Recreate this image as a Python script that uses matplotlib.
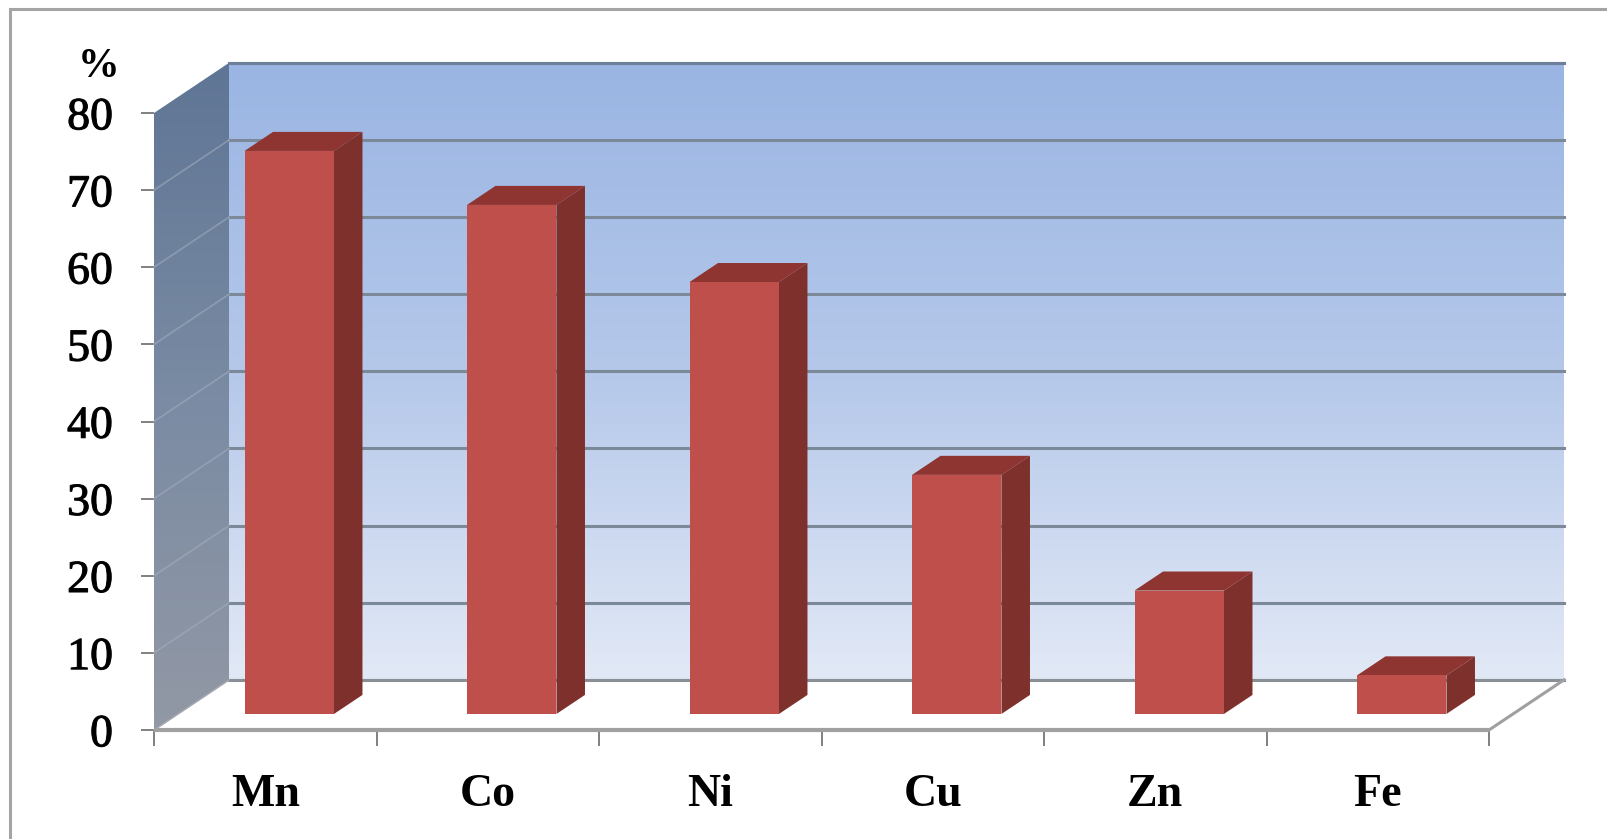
import numpy as np
import matplotlib
matplotlib.use("Agg")
import matplotlib.pyplot as plt
import matplotlib.patheffects as pe
from matplotlib.patches import Polygon, Rectangle
from matplotlib.colors import LinearSegmentedColormap

plt.rcParams['font.family'] = ['Liberation Serif', 'DejaVu Serif']

metals = ["Mn", "Co", "Ni", "Cu", "Zn", "Fe"]
percent = [73, 66, 56, 31, 16, 5]
y_ticks = [0, 10, 20, 30, 40, 50, 60, 70, 80]

W, H = 1607, 839
# depth of the 3d box, in data units
DX = 75 / 222.5
DY = 6.5
BAR_W = 0.402
D0, D1 = 0.32, 0.70


def proj(x, v, d):
    return x + d * DX, v + d * DY


fig = plt.figure(figsize=(W / 100, H / 100), dpi=100, facecolor="white")
ax = fig.add_axes([154 / W, 109 / H, 1335 / W, 617 / H])
ax.set_xlim(0, 6)
ax.set_ylim(0, 80)
for s in ax.spines.values():
    s.set_visible(False)
ax.patch.set_visible(False)

fig.add_artist(Rectangle((10 / W, -0.02), 1650 / W, (830 + 17) / H, transform=fig.transFigure,
                         fill=False, ec="#a4a4a4", lw=2.2))

# back wall
back_cm = LinearSegmentedColormap.from_list("back", ["#9ab5e3", "#b5c8ea", "#e2e9f6"])
grad = np.linspace(0, 1, 256).reshape(-1, 1)
ax.imshow(grad, cmap=back_cm, aspect="auto", zorder=1, clip_on=False,
          extent=(DX, 6 + DX, DY, 80 + DY), origin="upper")

# side wall
side_cm = LinearSegmentedColormap.from_list("side", ["#5f7595", "#7a8ba3", "#9298a5"])
im = ax.imshow(grad, cmap=side_cm, aspect="auto", zorder=1.5,
               extent=(0, DX, 0, 80 + DY), origin="upper")
side_poly = Polygon([proj(0, 0, 0), proj(0, 80, 0), proj(0, 80, 1), proj(0, 0, 1)],
                    transform=ax.transData, fc="none", ec="none", clip_on=False)
ax.add_patch(side_poly)
im.set_clip_box(fig.bbox)
im.set_clip_path(side_poly)
ax.set_xlim(0, 6)
ax.set_ylim(0, 80)

# grid lines
for v in y_ticks:
    x0, y0 = proj(0, v, 1)
    ax.plot([x0, 6 + DX], [y0, y0], color="#7c8998", lw=2.2, zorder=2, clip_on=False)
    if 0 < v < 80:
        ax.plot([0, DX], [v, v + DY], color="#a5b0bf", lw=1.2, alpha=0.55, zorder=2, clip_on=False)
ax.plot([DX, 6 + DX], [80 + DY, 80 + DY], color="#6d7f99", lw=2.2, zorder=2, clip_on=False)

# floor
ax.add_patch(Polygon([proj(0, 0, 0), proj(6, 0, 0), proj(6, 0, 1), proj(0, 0, 1)],
                     fc="white", ec="none", zorder=2.5, clip_on=False))
xb, yb = proj(0, 0, 1)
ax.plot([xb, 6 + DX], [yb, yb], color="#8a8f96", lw=2.2, zorder=2.6, clip_on=False)
ax.plot([6, 6 + DX], [0, DY], color="#a0a0a0", lw=2.2, zorder=2.6, clip_on=False)
ax.plot([0, DX], [0, DY], color="#a0a5ac", lw=1.2, zorder=2.6, clip_on=False)
ax.plot([0, 6], [0, 0], color="#a0a0a0", lw=3, zorder=2.7, clip_on=False, solid_capstyle="butt")

# bars
for i, val in enumerate(percent):
    l = i + 0.5 - BAR_W / 2
    r = i + 0.5 + BAR_W / 2
    # right side
    ax.add_patch(Polygon([proj(r, 0, D0), proj(r, val, D0), proj(r, val, D1), proj(r, 0, D1)],
                         fc="#7e302d", ec="none", zorder=3, clip_on=False))
    # top
    ax.add_patch(Polygon([proj(l, val, D0), proj(r, val, D0), proj(r, val, D1), proj(l, val, D1)],
                         fc="#8e3531", ec="none", zorder=3, clip_on=False))
    # front
    x0, y0 = proj(l, 0, D0)
    ax.bar(x0, val, width=BAR_W, bottom=y0, align="edge", color="#bf4f4b", zorder=4, clip_on=False)

ax.set_xlim(0, 6)
ax.set_ylim(0, 80)

ax.set_yticks(y_ticks)
ax.set_xticks(range(7))
ax.set_xticklabels([])
ax.set_xticks(np.arange(6) + 0.5, labels=metals, minor=True)
ax.tick_params(axis="x", which="major", length=11.5, width=1.4, color="#808080", direction="out")
ax.tick_params(axis="x", which="minor", length=0, pad=32, labelsize=33)
for lb in ax.get_xticklabels(minor=True):
    lb.set_fontweight("bold")
ax.tick_params(axis="y", length=9.5, width=1.4, color="#808080", pad=20, labelsize=33)
for lb in ax.get_yticklabels():
    lb.set_path_effects([pe.withStroke(linewidth=0.8, foreground="#111111")])

ax.text(-0.247, 85.9, "%", fontsize=30, fontweight="bold", ha="center", va="center", clip_on=False)

fig.savefig("out.png", dpi=100)
